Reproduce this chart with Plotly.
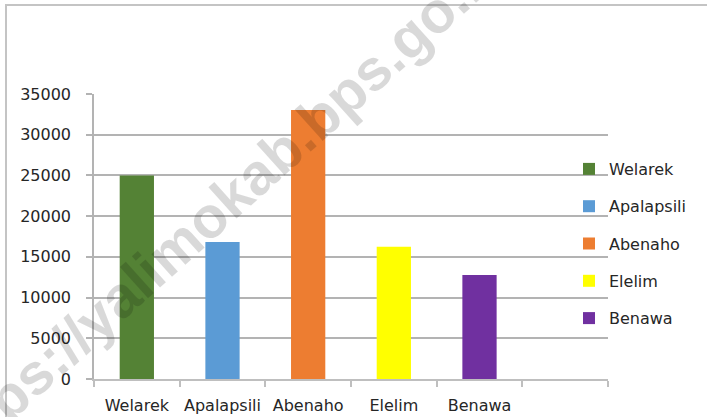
import plotly.graph_objects as go

categories = ["Welarek", "Apalapsili", "Abenaho", "Elelim", "Benawa"]
values = [25000, 16820, 33030, 16250, 12770]
colors = ["#548235", "#5b9bd5", "#ed7d31", "#ffff00", "#7030a0"]
y_ticks = [0, 5000, 10000, 15000, 20000, 25000, 30000, 35000]

W, H = 707, 417
L, R, T, B = 94, 99, 94, 38
pw, ph = W - L - R, H - T - B

def px_x(p):
    return (p - L) / pw

def px_y(p):
    return (H - B - p) / ph

fig = go.Figure()
for i, (name, v, c) in enumerate(zip(categories, values, colors)):
    fig.add_trace(go.Bar(
        x=[i], y=[v], name=name, marker=dict(color=c, line=dict(width=0)),
        width=0.4, legendgroup=name,
    ))

font_family = "DejaVu Sans"
grid_col = "#b3b3b3"

fig.update_layout(
    width=W, height=H,
    margin=dict(l=L, r=R, t=T, b=B, pad=0, autoexpand=False),
    paper_bgcolor="white", plot_bgcolor="white",
    barmode="overlay",
    font=dict(family=font_family, size=16, color="#262626"),
    showlegend=True,
    legend=dict(
        x=px_x(569), xanchor="left", y=px_y(152), yanchor="top",
        traceorder="grouped", tracegroupgap=13.5,
        font=dict(family=font_family, size=16, color="#262626"),
        bgcolor="rgba(0,0,0,0)",
    ),
    xaxis=dict(
        range=[-0.5, 5.5], automargin=False,
        tickmode="array", tickvals=list(range(len(categories))), ticktext=categories,
        ticks="", showgrid=False, zeroline=False,
        showline=True, linecolor="#bfbfbf", linewidth=2,
        ticklabelstandoff=11,
        minor=dict(tick0=-0.5, dtick=1, ticks="outside", ticklen=6,
                   tickcolor="#bfbfbf", tickwidth=1.5, showgrid=False),
        fixedrange=True,
    ),
    yaxis=dict(
        range=[0, 35000], automargin=False,
        tickmode="array", tickvals=y_ticks, ticktext=[str(t) for t in y_ticks],
        ticks="outside", ticklen=6, tickcolor=grid_col, tickwidth=1.5,
        showgrid=True, gridcolor=grid_col, gridwidth=1.5,
        zeroline=False,
        showline=True, linecolor=grid_col, linewidth=1.5,
        ticklabelstandoff=12,
        fixedrange=True,
    ),
    shapes=[dict(
        type="rect", xref="paper", yref="paper",
        x0=px_x(6), x1=px_x(W + 40), y0=px_y(H + 40), y1=px_y(5),
        line=dict(color="#c4c4c4", width=2), fillcolor="rgba(0,0,0,0)",
        layer="below",
    )],
    annotations=[dict(
        text="<b>https://yalimokab.bps.go.id</b>",
        xref="paper", yref="paper", x=px_x(218), y=px_y(207),
        xanchor="center", yanchor="middle", showarrow=False,
        textangle=-42,
        font=dict(family="Liberation Sans", size=58, color="rgba(0,0,0,0.15)"),
    )],
)

fig.write_html(
    "out.html",
    config={"displayModeBar": False},
    post_script="document.body.style.margin='0';document.body.style.overflow='hidden';",
)
